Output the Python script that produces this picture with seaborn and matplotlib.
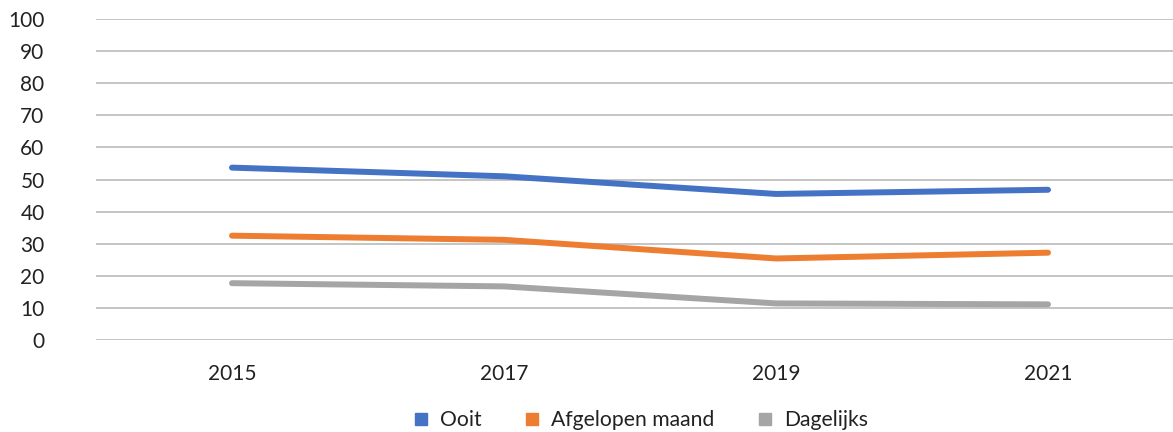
import numpy as np
import pandas as pd
import matplotlib.pyplot as plt
import seaborn as sns
from matplotlib.lines import Line2D

years = ["2015", "2017", "2019", "2021"]
ooit = [53.7, 51.0, 45.5, 46.8]
afgelopen_maand = [32.5, 31.2, 25.4, 27.2]
dagelijks = [17.7, 16.7, 11.4, 11.1]

series = ["Ooit", "Afgelopen maand", "Dagelijks"]
colors = ["#4472C4", "#ED7D31", "#A5A5A5"]

df = pd.DataFrame({
    "jaar": years * 3,
    "pos": list(range(len(years))) * 3,
    "waarde": ooit + afgelopen_maand + dagelijks,
    "reeks": [s for s in series for _ in years],
})

sns.set_style("white")
plt.rcParams["font.family"] = ["Lato", "DejaVu Sans"]

fig = plt.figure(figsize=(11.73, 4.32), dpi=100)
ax = fig.add_axes([96 / 1173, 1 - 340 / 432, 1088 / 1173, 321 / 432])

sns.lineplot(data=df, x="pos", y="waarde", hue="reeks", hue_order=series,
             palette=colors, linewidth=4.3, ax=ax, legend=False,
             solid_capstyle="round")

ax.set_xlim(-0.5, 3.5)
ax.set_ylim(0, 100)
ax.set_yticks(range(0, 101, 10))
ax.set_xticks(range(len(years)))
ax.set_xticklabels(years)
ax.grid(axis="y", color="#b4b4b4", linewidth=1.1)
ax.set_axisbelow(True)
for s in ax.spines.values():
    s.set_visible(False)
ax.tick_params(axis="both", length=0, labelsize=15, colors="#222222")
ax.tick_params(axis="y", pad=37)
ax.tick_params(axis="x", pad=17)
ax.set_xlabel("")
ax.set_ylabel("")

handles = [Line2D([], [], marker="s", linestyle="", markersize=9,
                  color=c) for c in colors]
fig.legend(handles, series, loc="center", bbox_to_anchor=(0.546, 0.028),
           ncol=3, frameon=False, fontsize=15.2, handlelength=0.8,
           handletextpad=0.5, columnspacing=2.0, labelcolor="#222222")

fig.savefig("out.png", dpi=100)
